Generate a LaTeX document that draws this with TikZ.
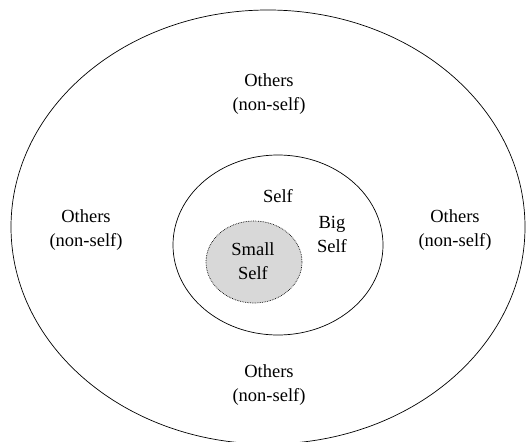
\documentclass[tikz,border=0pt]{standalone}
\usepackage{fontspec}
\setmainfont{Liberation Serif}
\usepackage{tikz}

\begin{document}
\begin{tikzpicture}[%
        % one unit is one pixel of the page, y going down
        x=1pt,y=-1pt,
        every node/.style={align=center,font=\fontsize{18.5}{24}\selectfont},
        ]

        \definecolor{smallcolor}{RGB}{216, 216, 216}

        \coordinate (Cout) at (268,227);  % centre of the others ring
        \coordinate (Cbig) at (278,245);  % centre of the big self
        \coordinate (Csml) at (254,262);  % centre of the small self

        \useasboundingbox (0,0) rectangle (526,441);

        % draw the rings
        \draw[line width=0.7pt] (Cout) ellipse [x radius=257, y radius=217];
        \draw[line width=0.7pt] (Cbig) ellipse [x radius=105, y radius=90];
        \draw[densely dotted,line width=0.7pt,fill=smallcolor] (Csml) ellipse [x radius=48, y radius=41];

        % labels
        \node (othersT) at (269,94) {Others\\(non-self)};
        \node (othersL) at (86,230) {Others\\(non-self)};
        \node (othersR) at (455,230) {Others\\(non-self)};
        \node (othersB) at (269,385) {Others\\(non-self)};
        \node (self) at (278,196) {Self};
        \node (bigself) at (332,234) {Big\\Self};
        \node (smallself) at (253,261) {Small\\Self};

    \end{tikzpicture}
\end{document}
